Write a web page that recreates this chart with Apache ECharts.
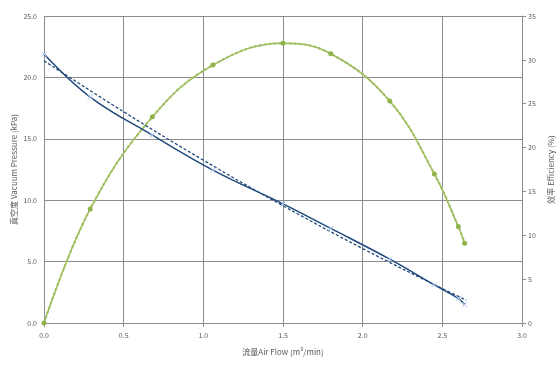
<!DOCTYPE html>
<html><head><meta charset="utf-8">
<script src="https://cdn.jsdelivr.net/npm/echarts@6/dist/echarts.min.js"></script>
<style>html,body{margin:0;padding:0;background:#fff}#c{width:560px;height:366px}</style>
</head><body><div id="c"></div>
<script>
const airFlow = [0, 0.29, 0.68, 1.06, 1.5, 1.8, 2.17, 2.45, 2.6, 2.64];
const vacuum = [21.9, 18.4, 15.3, 12.45, 9.7, 7.7, 5.2, 3.1, 2.0, 1.5];
const efficiency = [0, 13.0, 23.5, 29.4, 31.9, 30.7, 25.3, 17.0, 11.0, 9.1];
const vacuumTrendX = [0, 0.5, 1.0, 1.5, 2.0, 2.5, 2.65];
const vacuumTrendY = [21.35, 17.2, 13.26, 9.55, 6.06, 2.8, 1.87];
const xTicks = ['0.0','0.5','1.0','1.5','2.0','2.5','3.0'];

const pairs = (xs, ys) => xs.map((x, i) => [x, ys[i]]);
const font = 'Noto Sans CJK SC, Noto Sans, sans-serif';
const grey = '#595959';
const chart = echarts.init(document.getElementById('c'), null, {renderer: 'canvas'});
chart.setOption({
  animation: false,
  textStyle: {fontFamily: font},
  grid: {left: 44, right: 38, top: 16, bottom: 43, containLabel: false, outerBoundsMode: 'none'},
  xAxis: {
    type: 'value', min: 0, max: 3, interval: 0.5,
    name: '流量Air Flow (m³/min)', nameLocation: 'middle', nameGap: 25,
    nameTextStyle: {color: grey, fontSize: 8, fontFamily: font},
    axisLine: {show: true, lineStyle: {color: '#8c8c8c', width: 1}},
    axisTick: {show: true, length: 4, lineStyle: {color: '#8c8c8c'}},
    axisLabel: {color: grey, fontSize: 7, margin: 9, formatter: v => xTicks[Math.round(v / 0.5)]},
    splitLine: {show: true, lineStyle: {color: '#8c8c8c', width: 1}}
  },
  yAxis: [{
    type: 'value', min: 0, max: 25, interval: 5,
    name: '真空度 Vacuum Pressure (kPa)', nameLocation: 'middle', nameGap: 26, nameRotate: 90,
    nameMoveOverlap: false,
    nameTextStyle: {color: grey, fontSize: 8, fontFamily: font},
    axisLine: {show: false}, axisTick: {show: false},
    axisLabel: {color: grey, fontSize: 7, margin: 7, formatter: v => v.toFixed(1)},
    splitLine: {show: true, lineStyle: {color: '#8c8c8c', width: 1}}
  }, {
    type: 'value', min: 0, max: 35, interval: 5, position: 'right',
    name: '效率 Efficiency (%)', nameLocation: 'middle', nameGap: 22, nameRotate: 90,
    nameTextStyle: {color: grey, fontSize: 8, fontFamily: font},
    axisLine: {show: true, lineStyle: {color: '#8c8c8c', width: 1}},
    axisTick: {show: true, length: 4, lineStyle: {color: '#8c8c8c'}},
    axisLabel: {color: grey, fontSize: 7, margin: 6},
    splitLine: {show: false}
  }],
  series: [{
    type: 'line', yAxisIndex: 1, smooth: 0.4, data: pairs(airFlow, efficiency),
    symbol: 'none', z: 1,
    lineStyle: {color: '#c3d99b', width: 2.5, type: 'dotted'}
  }, {
    type: 'line', yAxisIndex: 1, smooth: 0.4, data: pairs(airFlow, efficiency),
    symbol: 'circle', symbolSize: 5,
    itemStyle: {color: '#8fb34a'},
    lineStyle: {color: '#9bbb59', width: 1.5}, z: 2
  }, {
    type: 'line', yAxisIndex: 0, smooth: 0.4, data: pairs(vacuumTrendX, vacuumTrendY),
    symbol: 'none', lineStyle: {color: '#1f497d', width: 1.3, type: [3, 2]}, z: 3
  }, {
    type: 'line', yAxisIndex: 0, smooth: 0.4, data: pairs(airFlow, vacuum),
    symbol: 'path://M0,0L10,10M10,0L0,10', symbolSize: 5,
    itemStyle: {color: 'none', borderColor: '#a6c4ea', borderWidth: 1},
    lineStyle: {color: '#1f497d', width: 1.5}, z: 4
  }]
});
</script></body></html>
